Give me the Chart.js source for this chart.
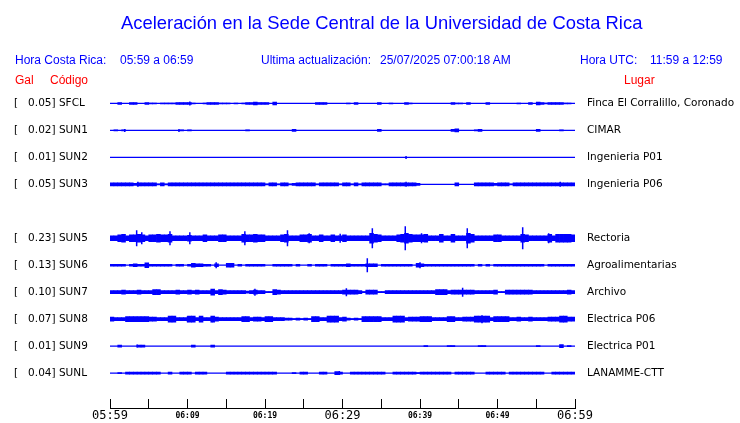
<!DOCTYPE html>
<html>
<head>
<meta charset="utf-8">
<script src="https://cdn.jsdelivr.net/npm/chart.js@4.4.1/dist/chart.umd.min.js"></script>
<style>
  body { margin: 0; background: #fff; }
  #wrap { position: relative; width: 740px; height: 423px; overflow: hidden; }
  #wrap canvas { position: absolute; left: 0; top: 0; }
  .t { position: absolute; white-space: pre; font-family: "Liberation Sans", Arial, sans-serif; line-height: 14px; }
  .blue { color: #0000ff; }
  .red { color: #ff0000; }
</style>
</head>
<body>
<div id="wrap">
  <canvas id="sismo" width="740" height="423"></canvas>
  <div class="t blue" style="left:121px; top:12px; font-size:18.4px; line-height:22px;">Aceleración en la Sede Central de la Universidad de Costa Rica</div>
  <div class="t blue" style="left:15px; top:53px; font-size:12px;">Hora Costa Rica:</div>
  <div class="t blue" style="left:120px; top:53px; font-size:12px;">05:59 a 06:59</div>
  <div class="t blue" style="left:261px; top:53px; font-size:12px;">Ultima actualización:</div>
  <div class="t blue" style="left:380px; top:53px; font-size:12px;">25/07/2025 07:00:18 AM</div>
  <div class="t blue" style="left:580px; top:53px; font-size:12px;">Hora UTC:</div>
  <div class="t blue" style="left:650px; top:53px; font-size:12px;">11:59 a 12:59</div>
  <div class="t red" style="left:15px; top:73px; font-size:12px;">Gal</div>
  <div class="t red" style="left:50px; top:73px; font-size:12px;">Código</div>
  <div class="t red" style="left:624px; top:73px; font-size:12px;">Lugar</div>
</div>
<script>
// estaciones, en el orden en que aparecen (la fila 4 queda vacia)
const codes  = ['SFCL', 'SUN1', 'SUN2', 'SUN3', 'SUN5', 'SUN6', 'SUN7', 'SUN8', 'SUN9', 'SUNL'];
const peaks  = ['0.05', '0.02', '0.01', '0.05', '0.23', '0.13', '0.10', '0.07', '0.01', '0.04'];
const places = ['Finca El Corralillo, Coronado', 'CIMAR', 'Ingenieria P01', 'Ingenieria P06',
                'Rectoria', 'Agroalimentarias', 'Archivo', 'Electrica P06', 'Electrica P01', 'LANAMME-CTT'];
const rows   = [0, 1, 2, 3, 5, 6, 7, 8, 9, 10];

const tickLabels = ['05:59', '06:09', '06:19', '06:29', '06:39', '06:49', '06:59'];
const bigTicks   = ['05:59', '06:29', '06:59'];

// envolvente de cada traza, un valor cada 30 s (120 por hora)
const SFCL = [0,0,1,0,0,1,1,0,0,1, 0.5,0.5,0,0.5,0.5,0.5,0.5,1,1,1, 1,0.5,0,0,0.5,1,1,1,0.5,0.5, 0.5,0,0.5,0,0.5,1,1,1.5,1,1,
              1,0,1.5,0,0,0,0,0,0,0, 0,0,0,1,1,1,0,0,0,0, 0,0.5,0,1,0,0,0,0,0,1, 0,0,0.5,0,0,0,1,0.5,0,0,
              0,0,0,0,0,0,0,0,1,0.5, 0.5,0,1,0,0,0,0,1,0,0, 0,0,0,0,0,0.5,0,0,1,0, 1.5,1,0.5,1,1,1,1,0.5,0.5,0];
const SUN1 = [0,0.5,0,0.5,0,0,0,0,0,0, 0,0,0,0,0,0,0,0,0.5,0, 0.5,0,0,0,0,0,0,0,0,0, 0,0,0,0,0,0.5,0,0,0,0,
              0,0,0,0,0,0,0,1,0,0, 0,0,0,0,0,0,0,0,0,0, 0,0,0,0,0,0,0,0,0,1, 0,0,0,0,0,0,0,0,0,0,
              0,0,0,0,0,0,0,0,1,1.5, 0,0,0,0,0.5,1,0,0,0,0, 0,0,0,0,0,0,0,0,0,0, 1,0,0,0,0,0,0.5,0,0,0];
const SUN2 = [0,0,0,0,0,0,0,0,0,0, 0,0,0,0,0,0,0,0,0,0, 0,0,0,0,0,0,0,0,0,0, 0,0,0,0,0,0,0,0,0,0,
              0,0,0,0,0,0,0,0,0,0, 0,0,0,0,0,0,0,0,0,0, 0,0,0,0,0,0,0,0,0,0, 0,0,0,0,0,0,0,0,0,0,
              0,0,0,0,0,0,0,0,0,0, 0,0,0,0,0,0,0,0,0,0, 0,0,0,0,0,0,0,0,0,0, 0,0,0,0,0,0,0,0,0,0];
const SUN3 = [1.5,1.5,1.5,1.5,1.5,1.5,1,1.5,1.5,1.5, 1.5,1.5,0.5,1.5,0.5,1.5,1.5,1.5,1.5,1.5, 1.5,1.5,1.5,1.5,1.5,1.5,1.5,1.5,1.5,1.5, 1.5,1.5,1.5,1.5,1.5,1.5,1.5,1.5,1.5,1.5,
              0.5,1.5,1.5,0.5,1.5,1.5,0.5,1,1.5,1.5, 1.5,1.5,1.5,0.5,1.5,1.5,1.5,1.5,1.5,0.5, 1.5,1.5,0.5,1.5,0.5,1.5,1.5,1.5,1.5,1.5, 0.5,0.5,1.5,1.5,1.5,1.5,1.5,1.5,1.5,1,
              0,0,0,0,0,0,0,0,0,1.5, 0,0,0,0,1.5,1.5,1.5,1.5,1.5,1, 1.5,1.5,1.5,0.5,1.5,1.5,1.5,1.5,1.5,1.5, 1.5,1.5,1.5,1.5,1.5,1.5,1.5,1.5,1.5,1.5];
const SUN5 = [2.5,2.5,3.5,4,2.5,3.5,3.5,4,3.5,2.5, 3.5,3.5,4,3.5,3.5,4,2.5,2.5,2.5,2.5, 3,2.5,2.5,2.5,3.5,2.5,2.5,2.5,3.5,3.5, 2.5,2.5,2.5,2.5,4,3.5,3.5,4,3.5,3.5,
              2.5,2.5,2.5,2.5,3.5,4,2.5,2.5,2.5,3.5, 3.5,4,2.5,2.5,3.5,2.5,2.5,3.5,2.5,2.5, 3.5,2.5,2.5,2.5,2.5,2.5,2.5,5,4,3.5, 2.5,2.5,2.5,2.5,3.5,4,5,4,3.5,3.5,
              3.5,4,2.5,2.5,2.5,4,2.5,2.5,4,2.5, 2.5,2.5,5,4,2.5,2.5,2.5,2.5,2.5,3.5, 3.5,2.5,2.5,2.5,2.5,2.5,4,3.5,2.5,2.5, 2.5,2.5,2.5,4,2.5,4,4,4,4,3.5];
const SUN6 = [1,1,1,1,0,1,1.5,1,1,2.5, 1,1,1,1,1,1,0,1,1,0, 1,2,1.5,1.5,1,1,0,1.5,0,0, 2,2,0,1,0,1,1,1,1,1,
              0,0,1,1,1,1,1,0,1,0, 0,1,0,1,1,1,0,1,1,1, 1,1.5,1,1,1,1,1.5,1.5,1.5,0, 1,1,1,1,1,1,1,1,0,2,
              1.5,1,1,1,1,1,1,1,1,1, 1,1,1,1,0,1,0,1,0,1, 1,1,1,1,1,1,1,1,1,1, 1,1,0,1,1,1,1,1,1,1];
const SUN7 = [1.5,1.5,1.5,2,1.5,1.5,1.5,2,1.5,1.5, 1.5,2.5,2.5,1.5,1.5,1.5,1.5,2,1.5,1.5, 2,1.5,2,1.5,1.5,1.5,3,1.5,2.5,2, 1.5,1.5,1.5,1.5,1.5,1,1.5,2,1.5,1.5,
              0.5,0.5,2.5,2,1.5,1.5,1.5,1.5,1.5,1.5, 1.5,1.5,1.5,1.5,1.5,1.5,1.5,1.5,1.5,1.5, 2,2,2,2,1.5,0.5,2,2,2,0.5, 0.5,1.5,1.5,1.5,1.5,1.5,1.5,1.5,1.5,1.5,
              1.5,1.5,1.5,1.5,2.5,2.5,2.5,1.5,2,2, 2,2,2,2,1.5,1.5,1.5,1.5,1.5,2, 0.5,0.5,2,2,2,2,2,2,2,1.5, 1.5,1.5,1.5,1.5,1.5,1.5,1.5,1.5,2,1.5];
const SUN8 = [2,1.5,1.5,1.5,2.5,2.5,2.5,2.5,2.5,2.5, 2,2,1.5,1.5,1.5,3,3,1.5,1.5,1.5, 3,3,1.5,3,1.5,1.5,3,2,1.5,1.5, 1.5,1.5,1.5,1.5,2.5,2.5,1.5,2,2,1.5,
              2.5,2.5,1.5,1.5,1.5,1,1,0.5,1,0.5, 1,0.5,2.5,2.5,1.5,1.5,3,3,3,1.5, 2,1,0.5,1,0.5,2.5,2.5,2.5,2.5,2.5, 1.5,1.5,1.5,3,3,3,1.5,2,2,2,
              2.5,2.5,2.5,1.5,1.5,1.5,1.5,2.5,2.5,1.5, 1.5,2,2,2,3,3,3,3,1.5,2.5, 2.5,2.5,2.5,1.5,1.5,2,1.5,1.5,2,1.5, 1.5,1.5,1.5,2,2,2,3,3,2,2];
const SUN9 = [0,0,1,0,0,0,0,1,1,0, 0,0,0,0,0,0,0,0,0,0, 0,1,0,0,0,0,1,0,0,0, 0,0,0,0,0,0,0,0,0,0,
              0,0,0,0,0,0,0,0,0,0, 0,0,0,0,0,0,0,0,0,0, 0,0,0,0,0,0,0,0,0,0, 0,0,0,0,0,0,0,0,0,0,
              0,0.5,0,0,0,0,0,0.5,0.5,0, 0,0,0,0,0,0.5,0.5,0,0,0, 0,0,0,0,0,0,0,0,0,0, 0.5,0,0,0,0,0,1.5,0,0.5,0];
const SUNL = [0,0,0.5,0,1,1,1,1,1,1, 1,1,1,0,0,1,0,0,1,1, 1,0,1,1,1,0,0,0,0,0, 1,1,1,1,1,1,1,1,1,1,
              1,1,1,0,0,0,0,0.5,0,1, 1,0,0,0,1,1,0,0,1.5,1, 0,0,1,1,1,1,1,1,1,1, 1,0,0,1,1,1,1,1,1,0.5,
              1,1,1,1,1,1,1,1,0,1, 1,1,1,1,0,0,0,1,1,1, 1,1,0,1,1,1,1,1,1,1, 1,1,0,0,1,1,1,1,1,1];

// picos aislados: [minuto, amplitud]
const SFCL_PK = [[10.3, 2], [21.25, 1.5]];
const SUN1_PK = [[1.9, 1.5], [8.9, 1.5]];
const SUN2_PK = [[38.2, 1.5]];
const SUN3_PK = [[3.6, 2.5], [38.2, 2.5], [58.1, 2.5]];
const SUN5_PK = [[3.44, 8], [4.1, 6], [7.74, 7], [10.3, 6], [17.4, 7], [22.9, 8], [25.7, 5], [29.7, 4.5],
                 [33.85, 10], [38.1, 12], [40.2, 5], [46.1, 10], [53.25, 11], [56.6, 5]];
const SUN6_PK = [[13.7, 3], [33.2, 7], [40.0, 3]];
const SUN7_PK = [[18.7, 3.5], [30.5, 4], [45.5, 4.5]];
const SUN8_PK = [[10.0, 3], [13.2, 3], [48.0, 4]];
const SUN9_PK = [[3.5, 1.5]];
const SUNL_PK = [[29.6, 2]];

const traces = [SFCL, SUN1, SUN2, SUN3, SUN5, SUN6, SUN7, SUN8, SUN9, SUNL];
const spikes = [SFCL_PK, SUN1_PK, SUN2_PK, SUN3_PK, SUN5_PK, SUN6_PK, SUN7_PK, SUN8_PK, SUN9_PK, SUNL_PK];
const minutes = 60;
const binMin = 0.5;
const gain = 1 / 27;   // amplitud dibujada -> separacion entre filas
const traceColor = '#0000ff';

const datasets = [];
traces.forEach((amp, i) => {
    const row = rows[i];
    // linea base de la estacion
    datasets.push({
        type: 'line',
        data: [{ x: 0, y: row }, { x: minutes, y: row }],
        borderColor: traceColor,
        borderWidth: 1.2,
        pointRadius: 0,
        yAxisID: 'y'
    });
    const pts = [];
    amp.forEach((a, k) => {
        if (a > 0) {
            pts.push({ x: (k + 0.5) * binMin, y: [row - a * gain, row + a * gain] });
        }
    });
    datasets.push({
        type: 'bar',
        data: pts,
        backgroundColor: traceColor,
        borderWidth: 0,
        grouped: false,
        barPercentage: 1,
        categoryPercentage: 1,
        yAxisID: 'y'
    });
    // picos como segmentos verticales
    const seg = [];
    spikes[i].forEach(([t, a]) => {
        seg.push({ x: t, y: row - a * gain }, { x: t, y: row + a * gain }, { x: t, y: null });
    });
    datasets.push({
        type: 'line',
        data: seg,
        borderColor: traceColor,
        borderWidth: 1.5,
        pointRadius: 0,
        spanGaps: false,
        yAxisID: 'y'
    });
});

const rowLabel = {};
const placeLabel = {};
rows.forEach((r, i) => {
    rowLabel[r] = '[   ' + peaks[i] + '] ' + codes[i];
    placeLabel[r] = places[i];
});

const yMin = -1;
const yMax = 11.296;
const setRowTicks = (scale) => {
    scale.ticks = rows.map(v => ({ value: v }));
};
const noPad = (s) => {
    s.paddingTop = 0;
    s.paddingBottom = 0;
};

const ctx = document.getElementById('sismo').getContext('2d');
const chart = new Chart(ctx, {
    type: 'bar',
    data: { datasets: datasets },
    options: {
        responsive: false,
        animation: false,
        devicePixelRatio: 1,
        layout: { padding: { top: 76.5, left: 14, right: 0, bottom: 0 } },
        plugins: {
            legend: { display: false },
            tooltip: { enabled: false }
        },
        scales: {
            x: {
                type: 'linear',
                min: 0,
                max: minutes,
                offset: false,
                border: { display: true, color: '#000', width: 1 },
                grid: { offset: false, drawOnChartArea: false, drawTicks: true, tickLength: -9, color: '#000' },
                ticks: {
                    stepSize: 5,
                    autoSkip: false,
                    maxRotation: 0,
                    padding: 9,
                    color: '#000',
                    callback: (v) => (v % 10 === 0 ? tickLabels[v / 10] : ''),
                    font: (c) => {
                        const lbl = tickLabels[c.tick ? c.tick.value / 10 : -1];
                        if (bigTicks.includes(lbl)) {
                            return { family: 'DejaVu Sans Mono', size: 12, lineHeight: '16px' };
                        }
                        return { family: 'DejaVu Sans Mono', size: 8, weight: 'bold', lineHeight: '16px' };
                    }
                },
                afterFit: (s) => { s.height = 15; }
            },
            y: {
                position: 'left',
                reverse: true,
                min: yMin,
                max: yMax,
                grid: { display: false },
                border: { display: false },
                afterBuildTicks: setRowTicks,
                ticks: {
                    crossAlign: 'far',
                    color: '#000',
                    font: { family: 'DejaVu Sans', size: 10.5 },
                    callback: (v) => rowLabel[v] || ''
                },
                afterFit: (s) => { s.width = 96; noPad(s); }
            },
            y2: {
                display: true,
                position: 'right',
                reverse: true,
                min: yMin,
                max: yMax,
                grid: { display: false, drawTicks: false },
                border: { display: false },
                afterBuildTicks: setRowTicks,
                ticks: {
                    padding: 12,
                    color: '#000',
                    font: { family: 'DejaVu Sans', size: 10.5 },
                    callback: (v) => placeLabel[v] || ''
                },
                afterFit: (s) => { s.width = 165; noPad(s); }
            }
        }
    }
});
</script>
</body>
</html>
